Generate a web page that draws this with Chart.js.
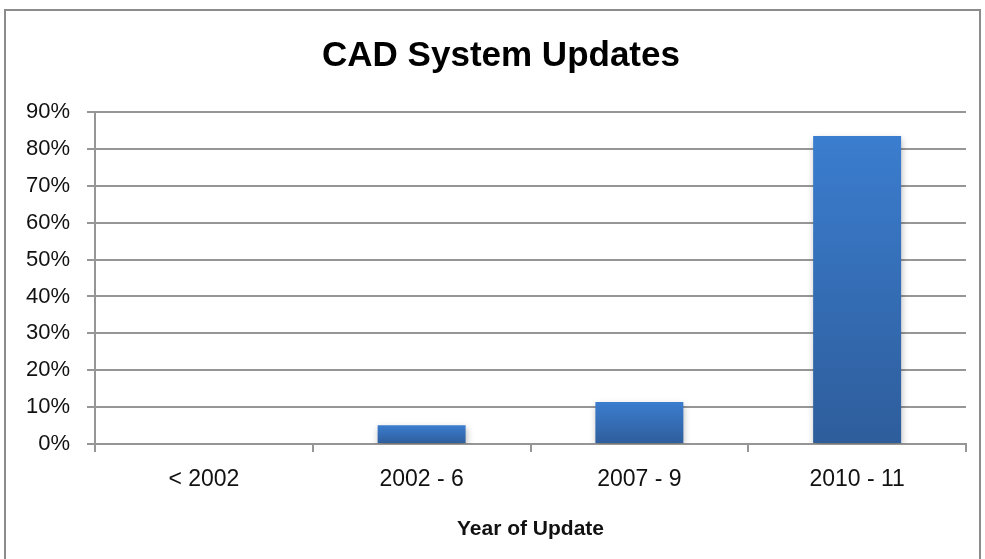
<!DOCTYPE html>
<html>
<head>
<meta charset="utf-8">
<title>CAD System Updates</title>
<script src="https://cdn.jsdelivr.net/npm/chart.js@4/dist/chart.umd.min.js"></script>
<style>
  html, body { margin: 0; padding: 0; background: #fff; overflow: hidden; }
  #frame {
    position: absolute; left: 4px; top: 9px; width: 977px; height: 600px;
    border: 2px solid #8c8c8c; box-sizing: border-box;
  }
  #wrap { position: absolute; left: 0; top: 0; width: 985px; height: 559px; }
</style>
</head>
<body>
<div id="frame"></div>
<div id="wrap"><canvas id="chart" width="985" height="559"></canvas></div>
<script>
// share of systems by year of last update
const categories = ['< 2002', '2002 - 6', '2007 - 9', '2010 - 11'];
const shares = [0, 0.051, 0.114, 0.835];
const yTicks = [0, 0.1, 0.2, 0.3, 0.4, 0.5, 0.6, 0.7, 0.8, 0.9];

const FONT = "'Liberation Sans Narrow', 'Arial Narrow', 'Liberation Sans', sans-serif";
const GRID = '#969696';

// each bar gets its own light-to-dark vertical gradient
function barFill(ctx) {
  const chart = ctx.chart;
  const y = chart.scales.y;
  if (!y || !ctx.parsed) return '#3a7bcb';
  const top = y.getPixelForValue(ctx.parsed.y);
  const bottom = y.getPixelForValue(0);
  if (!isFinite(top) || !isFinite(bottom) || bottom - top < 1) return '#3a7bcb';
  const g = chart.ctx.createLinearGradient(0, top, 0, bottom);
  g.addColorStop(0, '#3b7dcf');
  g.addColorStop(1, '#2e5d9b');
  return g;
}

// soft drop shadow under the bars
const barShadow = {
  id: 'barShadow',
  beforeDatasetsDraw(chart) {
    const c = chart.ctx;
    c.save();
    c.shadowColor = 'rgba(0,0,0,0.3)';
    c.shadowBlur = 7;
    c.shadowOffsetX = 1;
    c.shadowOffsetY = 3;
  },
  afterDatasetsDraw(chart) {
    chart.ctx.restore();
  }
};

// center the title over the framed box rather than the whole canvas
const titleShift = {
  id: 'titleShift',
  afterLayout(chart) {
    const t = chart.titleBlock;
    if (t) { t.left = 36; t.right = chart.chartArea.right; }
  }
};

new Chart(document.getElementById('chart'), {
  type: 'bar',
  data: {
    labels: categories,
    datasets: [{
      data: shares,
      backgroundColor: barFill,
      borderWidth: 0,
      categoryPercentage: 1,
      barPercentage: 0.404
    }]
  },
  options: {
    responsive: false,
    animation: false,
    layout: { padding: { left: 0, right: 19, top: 0, bottom: 0 } },
    plugins: {
      legend: { display: false },
      tooltip: { enabled: false },
      title: {
        display: true,
        text: 'CAD System Updates',
        color: '#000',
        font: { family: FONT, size: 35, weight: 'bold' },
        padding: { top: 35, bottom: 35 }
      }
    },
    scales: {
      x: {
        grid: {
          display: true,
          offset: true,
          drawOnChartArea: false,
          drawTicks: true,
          tickLength: 8,
          color: GRID,
          lineWidth: 2
        },
        border: { display: true, color: GRID, width: 2 },
        ticks: {
          color: '#111',
          padding: 14,
          font: { family: FONT, size: 23 }
        },
        title: {
          display: true,
          text: 'Year of Update',
          color: '#111',
          font: { family: FONT, size: 21, weight: 'bold' },
          padding: { top: 0, bottom: 17 }
        },
        afterFit(scale) { scale.height = 115; }
      },
      y: {
        min: 0,
        max: 0.9,
        afterBuildTicks(scale) { scale.ticks = yTicks.map(v => ({ value: v })); },
        grid: {
          color: GRID,
          lineWidth: 2,
          tickLength: 8
        },
        border: { display: true, color: GRID, width: 2 },
        ticks: {
          color: '#111',
          padding: 17,
          font: { family: FONT, size: 22 },
          callback: v => Math.round(v * 100) + '%'
        },
        afterFit(scale) { scale.width = 95; }
      }
    }
  },
  plugins: [barShadow, titleShift]
});
</script>
</body>
</html>
